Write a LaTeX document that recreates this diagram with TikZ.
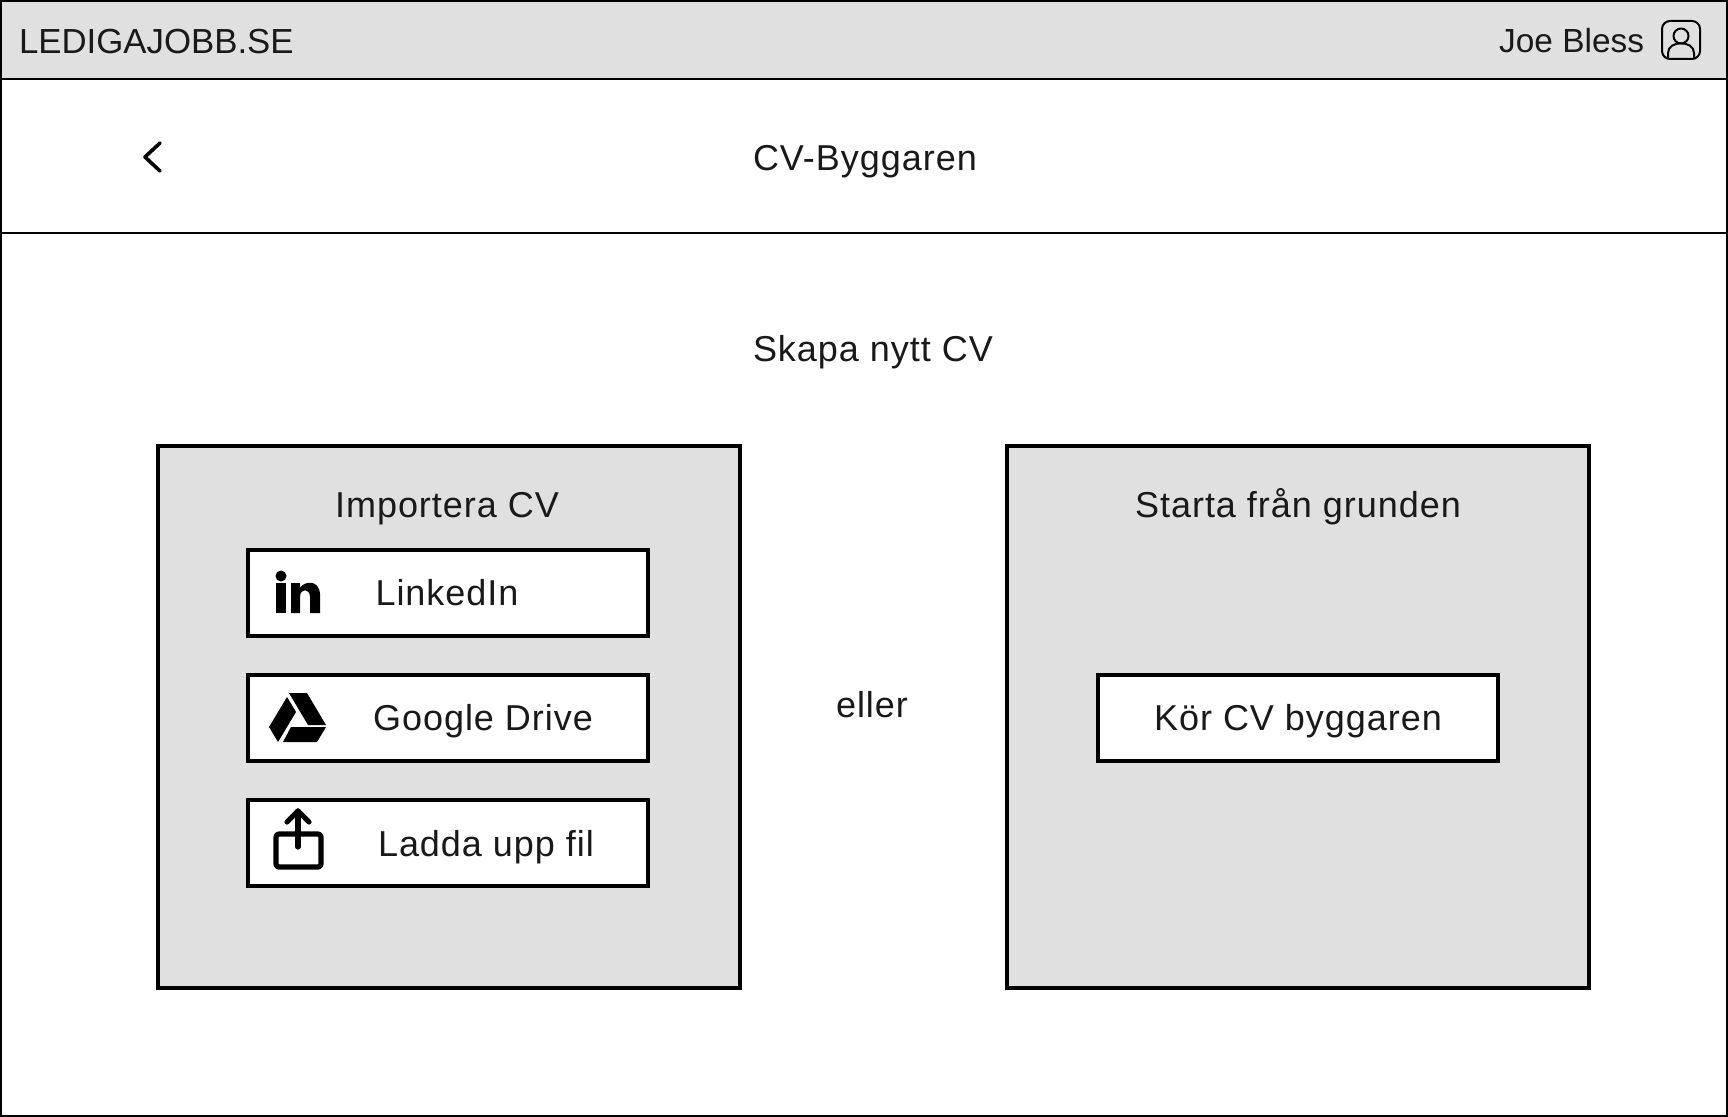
\documentclass[tikz,border=0pt]{standalone}
\usepackage{fontspec}
\setmainfont{Liberation Sans}
\newfontfamily\spacedfont[LetterSpace=2.7]{Liberation Sans}
\usepackage{xcolor}
\usetikzlibrary{positioning}
\definecolor{panelgray}{HTML}{E0E0E0}
\definecolor{inkblack}{HTML}{000000}
\begin{document}
\begin{tikzpicture}[
  x=0.5pt, y=-0.5pt,
  txt/.style={font=\spacedfont\fontsize{18}{20}\selectfont, text height=12.9pt, text depth=0pt, inner sep=0pt, outer sep=0pt, text=inkblack!90},
  toptxt/.style={txt, font=\rmfamily\fontsize{#1}{20}\selectfont},
  panel/.style={draw=inkblack, line width=2pt, fill=panelgray, minimum width=291pt, minimum height=271pt, inner sep=0pt},
  btn/.style={draw=inkblack, line width=2pt, fill=white, minimum width=200pt, minimum height=43pt, inner sep=0pt, outer sep=0pt},
  icon/.style={line width=2.6pt, inkblack, line cap=round, line join=round},
  bar/.style={draw=inkblack, line width=1pt, minimum width=863pt, inner sep=0pt, outer sep=0pt}
]
\useasboundingbox (0,0) rectangle (1728,1117);
\fill[white] (0,0) rectangle (1728,1117);

% header and title bar
\node[bar, fill=panelgray, minimum height=39pt, anchor=north west] (head) at (1,1) {};
\node[bar, minimum height=77pt, anchor=north west] (titlebar) at (head.south west) {};
\node[bar, minimum height=557.5pt, anchor=north west] (frame) at (1,1) {};

\node[toptxt=17.4, anchor=west] (brand) at (19,41) {LEDIGAJOBB.SE};
\node[toptxt=16.7, anchor=east] (user) at (1644,40) {Joe Bless};
\node[txt, anchor=west] (title) at (753,158) {CV-Byggaren};
\node[txt, anchor=west] (create) at (753,349) {Skapa nytt CV};

% the two panels
\node[panel] (import) at (448.5,717) {};
\node[panel] (scratch) at (1297.5,717) {};
\node[txt] (or) at (872,705) {eller};
\node[txt] (importhead) at (447,505) {Importera CV};
\node[txt] (scratchhead) at (1298,505) {Starta från grunden};

\node[btn] (linkedin) at (448,592.5) {};
\node[btn, below=19.7pt of linkedin] (drive) {};
\node[btn, below=19.7pt of drive] (upload) {};
\node[btn] (runner) at (1298,717.5) {};

\node[txt] (linkedinlab) at (447,593) {LinkedIn};
\node[txt] (drivelab) at (483,718) {Google Drive};
\node[txt] (uploadlab) at (486,844) {Ladda upp fil};
\node[txt] (runnerlab) at (1298,718) {Kör CV byggaren};

% back chevron
\draw[icon, line width=1.8pt] (160,143) -- (145,157) -- (160,171);

% user icon
\draw[icon, line width=1pt, rounded corners=4pt] (1662,21) rectangle (1700,59);
\draw[icon, line width=1pt] (1681,36) circle (7.5);
\draw[icon, line width=1pt] (1668,58) -- (1668,53) .. controls (1668,40) and (1694,40) .. (1694,53) -- (1694,58);

% linkedin icon
\fill[inkblack] (281,576) circle (5.5);
\fill[inkblack] (276,583) rectangle (286,613);
\fill[inkblack] (291,583) -- (300,583) -- (300,588) .. controls (304,581) and (319,579) .. (320,594) -- (320,613) -- (310,613) -- (310,597) .. controls (310,588) and (300,588) .. (300,597) -- (300,613) -- (291,613) -- cycle;

% drive icon
\fill[inkblack] (289,693) -- (307,693) -- (326,725) -- (308,725) -- cycle;
\fill[inkblack] (287,697) -- (296,712) -- (278,742) -- (269,727) -- cycle;
\fill[inkblack] (291,727) -- (326,727) -- (317,742) -- (283,742) -- cycle;

% upload icon
\draw[icon, rounded corners=1.5pt] (276,834) rectangle (321,867);
\draw[icon] (298,847) -- (298,811);
\draw[icon] (287,822) -- (298,811) -- (309,822);
\end{tikzpicture}
\end{document}
